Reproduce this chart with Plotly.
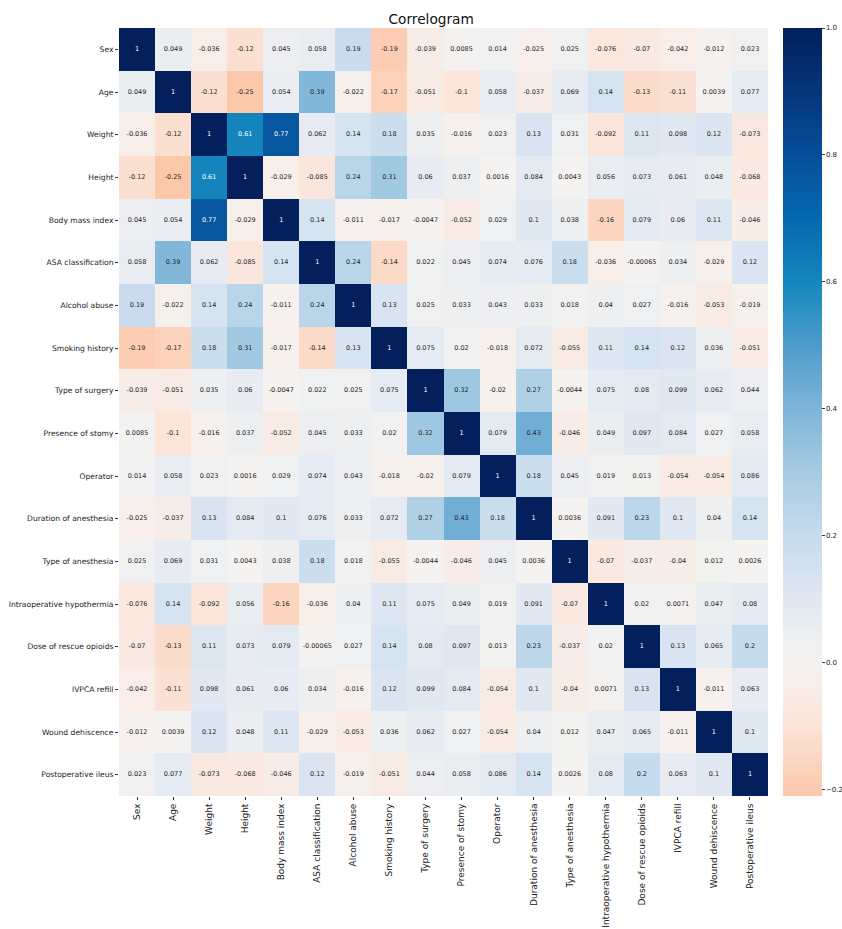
import plotly.graph_objects as go

labels = ["Sex", "Age", "Weight", "Height", "Body mass index", "ASA classification",
          "Alcohol abuse", "Smoking history", "Type of surgery", "Presence of stomy",
          "Operator", "Duration of anesthesia", "Type of anesthesia",
          "Intraoperative hypothermia", "Dose of rescue opioids", "IVPCA refill",
          "Wound dehiscence", "Postoperative ileus"]

r_sex = [1, 0.049, -0.036, -0.12, 0.045, 0.058, 0.19, -0.19, -0.039, 0.0085, 0.014, -0.025, 0.025, -0.076, -0.07, -0.042, -0.012, 0.023]
r_age = [0.049, 1, -0.12, -0.25, 0.054, 0.39, -0.022, -0.17, -0.051, -0.1, 0.058, -0.037, 0.069, 0.14, -0.13, -0.11, 0.0039, 0.077]
r_weight = [-0.036, -0.12, 1, 0.61, 0.77, 0.062, 0.14, 0.18, 0.035, -0.016, 0.023, 0.13, 0.031, -0.092, 0.11, 0.098, 0.12, -0.073]
r_height = [-0.12, -0.25, 0.61, 1, -0.029, -0.085, 0.24, 0.31, 0.06, 0.037, 0.0016, 0.084, 0.0043, 0.056, 0.073, 0.061, 0.048, -0.068]
r_bmi = [0.045, 0.054, 0.77, -0.029, 1, 0.14, -0.011, -0.017, -0.0047, -0.052, 0.029, 0.1, 0.038, -0.16, 0.079, 0.06, 0.11, -0.046]
r_asa = [0.058, 0.39, 0.062, -0.085, 0.14, 1, 0.24, -0.14, 0.022, 0.045, 0.074, 0.076, 0.18, -0.036, -0.00065, 0.034, -0.029, 0.12]
r_alcohol = [0.19, -0.022, 0.14, 0.24, -0.011, 0.24, 1, 0.13, 0.025, 0.033, 0.043, 0.033, 0.018, 0.04, 0.027, -0.016, -0.053, -0.019]
r_smoking = [-0.19, -0.17, 0.18, 0.31, -0.017, -0.14, 0.13, 1, 0.075, 0.02, -0.018, 0.072, -0.055, 0.11, 0.14, 0.12, 0.036, -0.051]
r_surgery = [-0.039, -0.051, 0.035, 0.06, -0.0047, 0.022, 0.025, 0.075, 1, 0.32, -0.02, 0.27, -0.0044, 0.075, 0.08, 0.099, 0.062, 0.044]
r_stomy = [0.0085, -0.1, -0.016, 0.037, -0.052, 0.045, 0.033, 0.02, 0.32, 1, 0.079, 0.43, -0.046, 0.049, 0.097, 0.084, 0.027, 0.058]
r_operator = [0.014, 0.058, 0.023, 0.0016, 0.029, 0.074, 0.043, -0.018, -0.02, 0.079, 1, 0.18, 0.045, 0.019, 0.013, -0.054, -0.054, 0.086]
r_duration = [-0.025, -0.037, 0.13, 0.084, 0.1, 0.076, 0.033, 0.072, 0.27, 0.43, 0.18, 1, 0.0036, 0.091, 0.23, 0.1, 0.04, 0.14]
r_anesthesia = [0.025, 0.069, 0.031, 0.0043, 0.038, 0.18, 0.018, -0.055, -0.0044, -0.046, 0.045, 0.0036, 1, -0.07, -0.037, -0.04, 0.012, 0.0026]
r_hypothermia = [-0.076, 0.14, -0.092, 0.056, -0.16, -0.036, 0.04, 0.11, 0.075, 0.049, 0.019, 0.091, -0.07, 1, 0.02, 0.0071, 0.047, 0.08]
r_opioids = [-0.07, -0.13, 0.11, 0.073, 0.079, -0.00065, 0.027, 0.14, 0.08, 0.097, 0.013, 0.23, -0.037, 0.02, 1, 0.13, 0.065, 0.2]
r_ivpca = [-0.042, -0.11, 0.098, 0.061, 0.06, 0.034, -0.016, 0.12, 0.099, 0.084, -0.054, 0.1, -0.04, 0.0071, 0.13, 1, -0.011, 0.063]
r_wound = [-0.012, 0.0039, 0.12, 0.048, 0.11, -0.029, -0.053, 0.036, 0.062, 0.027, -0.054, 0.04, 0.012, 0.047, 0.065, -0.011, 1, 0.1]
r_ileus = [0.023, 0.077, -0.073, -0.068, -0.046, 0.12, -0.019, -0.051, 0.044, 0.058, 0.086, 0.14, 0.0026, 0.08, 0.2, 0.063, 0.1, 1]

matrix = [r_sex, r_age, r_weight, r_height, r_bmi, r_asa, r_alcohol, r_smoking,
          r_surgery, r_stomy, r_operator, r_duration, r_anesthesia, r_hypothermia,
          r_opioids, r_ivpca, r_wound, r_ileus]

zmin, zmax = -0.21, 1.0


def pos(v):
    return (v - zmin) / (zmax - zmin)


colorscale = [
    [0.0, "#fcc8aa"],
    [pos(-0.1), "#fbe4d8"],
    [pos(0.0), "#f5f3f1"],
    [pos(0.1), "#e0e8f2"],
    [pos(0.2), "#c6dbed"],
    [pos(0.3), "#a6cbe3"],
    [pos(0.4), "#7fb5d9"],
    [pos(0.5), "#4e9cca"],
    [pos(0.6), "#1487be"],
    [pos(0.7), "#0569ae"],
    [pos(0.8), "#064e9a"],
    [pos(0.9), "#05357b"],
    [1.0, "#03205c"],
]

fig = go.Figure(go.Heatmap(
    z=matrix, x=labels, y=labels,
    colorscale=colorscale, zmin=zmin, zmax=zmax,
    xgap=0, ygap=0, hoverinfo="skip",
    colorbar=dict(
        x=1.0231, xanchor="left", xpad=0, thickness=39, len=1.0, lenmode="fraction",
        y=0.5, yanchor="middle", ypad=0, outlinewidth=0,
        tickvals=[-0.2, 0.0, 0.2, 0.4, 0.6, 0.8, 1.0],
        ticktext=["\u22120.2", "0.0", "0.2", "0.4", "0.6", "0.8", "1.0"],
        ticks="outside", ticklen=3, tickcolor="#333",
        tickfont=dict(size=7, family="DejaVu Sans", color="#222"),
    ),
))

# cell annotations through the categorical axes
tx, ty, tt, tc = [], [], [], []
for i, row in enumerate(matrix):
    for j, v in enumerate(row):
        tx.append(labels[j])
        ty.append(labels[i])
        tt.append(f"{v:.2g}")
        tc.append("white" if v > 0.5 else "#262626")

fig.add_trace(go.Scatter(
    x=tx, y=ty, mode="text", text=tt,
    textfont=dict(size=6.5, family="DejaVu Sans", color=tc),
    hoverinfo="skip", showlegend=False,
))

n = len(labels)
fig.update_layout(
    width=842, height=929,
    margin=dict(l=119, r=74, t=28, b=133, autoexpand=False),
    paper_bgcolor="white", plot_bgcolor="white",
    font=dict(family="DejaVu Sans", color="#222"),
    title=dict(text="Correlogram", x=0.481, xref="paper", xanchor="center",
               y=1 - 19 / 929, yanchor="middle",
               font=dict(size=13.7, family="DejaVu Sans", color="#111")),
)
fig.update_xaxes(range=[-0.5, n - 0.5], tickangle=-90, ticks="outside", ticklen=3,
                 tickcolor="#333", tickfont=dict(size=9), showgrid=False,
                 zeroline=False, automargin=False)
fig.update_yaxes(range=[n - 0.5, -0.5], ticks="outside", ticklen=3, tickcolor="#333",
                 tickfont=dict(size=7.6), showgrid=False, zeroline=False,
                 automargin=False)

fig.write_html("out.html", config={"displayModeBar": False},
               post_script="document.body.style.margin='0px';")
